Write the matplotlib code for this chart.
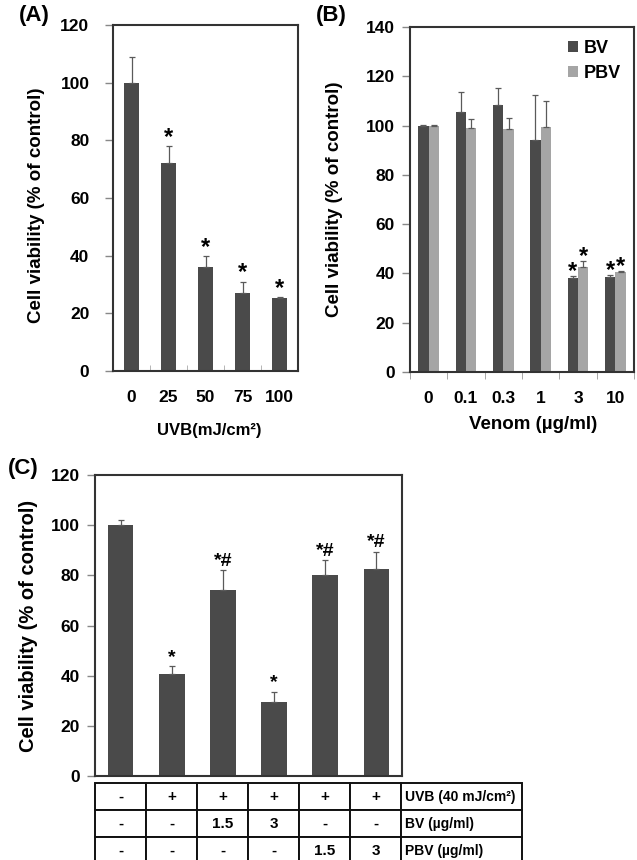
import matplotlib
matplotlib.use("Agg")
import matplotlib.pyplot as plt
import numpy as np

plt.rcParams['font.family'] = ['Liberation Sans', 'DejaVu Sans']
plt.rcParams['font.weight'] = 'bold'

# ---- data ----
a_labels = ['0', '25', '50', '75', '100']
a_vals = [100, 72, 36, 27, 25.2]
a_err = [9, 6, 4, 4, 0.4]
a_sig = ['', '*', '*', '*', '*']

b_labels = ['0', '0.1', '0.3', '1', '3', '10']
b_bv = [100, 105.5, 108.5, 94, 38, 38.5]
b_bv_err = [0.2, 8, 6.8, 18.5, 1, 1]
b_pbv = [100, 99, 98.5, 99.5, 42.5, 40.5]
b_pbv_err = [0.2, 3.5, 4.5, 10.5, 2.5, 0.6]
b_bv_sig = ['', '', '', '', '*', '*']
b_pbv_sig = ['', '', '', '', '*', '*']

c_vals = [100, 40.5, 74, 29.5, 80, 82.5]
c_err = [2, 3.2, 8, 4, 6, 7]
c_sig = ['', '*', '*#', '*', '*#', '*#']
table_rows = [
    ['-', '+', '+', '+', '+', '+', 'UVB (40 mJ/cm\u00b2)'],
    ['-', '-', '1.5', '3', '-', '-', 'BV (\u00b5g/ml)'],
    ['-', '-', '-', '-', '1.5', '3', 'PBV (\u00b5g/ml)'],
]

DARK = '#4a4a4a'
LIGHT = '#a5a5a5'
ERRC = '#5a5a5a'
SPINE = '#333333'

fig = plt.figure(figsize=(6.37, 8.6), dpi=100)
W, H = 637, 860

def ax_at(x0, y0, x1, y1):
    return fig.add_axes([x0 / W, 1 - y1 / H, (x1 - x0) / W, (y1 - y0) / H])

def style(ax, pad):
    for s in ax.spines.values():
        s.set_color(SPINE)
        s.set_linewidth(1.5)
    ax.tick_params(axis='y', direction='out', length=6, width=1, color='#888888',
                   labelsize=12.5, pad=pad)
    for t in ax.get_yticklabels():
        t.set_fontweight('bold')

ylab = 'Cell viability (% of control)'

# ---- Panel A ----
axA = ax_at(113, 25, 298, 371)
xa = np.arange(len(a_vals))
axA.bar(xa, a_vals, width=0.38, color=DARK, zorder=2)
axA.errorbar(xa, a_vals, yerr=[np.zeros(len(a_err)), a_err], fmt='none',
             ecolor=ERRC, elinewidth=0.9, capsize=2.5, capthick=0.9, zorder=3)
for x, v, e, s in zip(xa, a_vals, a_err, a_sig):
    if s:
        axA.text(x, v + e - 1.0, s, ha='center', va='bottom', fontsize=17, fontweight='bold')
axA.set_xlim(-0.5, len(a_vals) - 0.5)
axA.set_ylim(0, 120)
axA.set_yticks(range(0, 121, 20))
axA.set_xticks(xa)
axA.set_xticklabels(a_labels, fontsize=12.5, fontweight='bold')
axA.tick_params(axis='x', which='major', length=0, pad=14)
axA.set_xticks(np.arange(0.5, len(a_vals) - 0.5, 1), minor=True)
axA.tick_params(axis='x', which='minor', direction='in', length=4, color='#aaaaaa')
style(axA, 11)
axA.set_ylabel(ylab, fontsize=13.5, fontweight='bold')
axA.yaxis.set_label_coords(-0.368, 0.48)
axA.set_xlabel('UVB(mJ/cm\u00b2)', fontsize=12, fontweight='bold')
axA.xaxis.set_label_coords(0.52, -0.15)
fig.text(19 / W, 1 - 16 / H, '(A)', fontsize=16, fontweight='bold', va='center')

# ---- Panel B ----
axB = ax_at(410, 27, 634, 372)
xb = np.arange(len(b_bv))
bw = 0.28
axB.bar(xb - bw / 2, b_bv, width=bw, color=DARK, label='BV', zorder=2)
axB.bar(xb + bw / 2, b_pbv, width=bw, color=LIGHT, label='PBV', zorder=2)
axB.errorbar(xb - bw / 2, b_bv, yerr=[np.zeros(len(b_bv)), b_bv_err], fmt='none',
             ecolor=ERRC, elinewidth=0.9, capsize=2.5, capthick=0.9, zorder=3)
axB.errorbar(xb + bw / 2, b_pbv, yerr=[np.zeros(len(b_pbv)), b_pbv_err], fmt='none',
             ecolor=ERRC, elinewidth=0.9, capsize=2.5, capthick=0.9, zorder=3)
for x, v, e, s in zip(xb - bw / 2, b_bv, b_bv_err, b_bv_sig):
    if s:
        axB.text(x, v + e - 3.0, s, ha='center', va='bottom', fontsize=17, fontweight='bold')
for x, v, e, s in zip(xb + bw / 2, b_pbv, b_pbv_err, b_pbv_sig):
    if s:
        axB.text(x, v + e - 3.0, s, ha='center', va='bottom', fontsize=17, fontweight='bold')
axB.set_xlim(-0.5, len(b_bv) - 0.5)
axB.set_ylim(0, 140)
axB.set_yticks(range(0, 141, 20))
axB.set_xticks(xb)
axB.set_xticklabels(b_labels, fontsize=12.5, fontweight='bold')
axB.tick_params(axis='x', which='major', length=0, pad=14)
axB.set_xticks(np.arange(-0.5, len(b_bv), 1), minor=True)
axB.tick_params(axis='x', which='minor', direction='out', length=5, color='#999999')
style(axB, 5)
axB.set_ylabel(ylab, fontsize=13.5, fontweight='bold')
axB.yaxis.set_label_coords(-0.30, 0.5)
axB.set_xlabel('Venom (\u00b5g/ml)', fontsize=13.5, fontweight='bold')
axB.xaxis.set_label_coords(0.55, -0.128)
leg = axB.legend(loc='upper right', frameon=False, fontsize=13, handlelength=0.55,
                 handleheight=0.55, handletextpad=0.35, borderaxespad=0.3, labelspacing=0.45)
for t in leg.get_texts():
    t.set_fontweight('bold')
fig.text(316 / W, 1 - 16 / H, '(B)', fontsize=16, fontweight='bold', va='center')

# ---- Panel C ----
axC = ax_at(95, 475, 402, 776)
xc = np.arange(len(c_vals))
axC.bar(xc, c_vals, width=0.5, color=DARK, zorder=2)
axC.errorbar(xc, c_vals, yerr=[np.zeros(len(c_err)), c_err], fmt='none',
             ecolor=ERRC, elinewidth=0.9, capsize=2.5, capthick=0.9, zorder=3)
for x, v, e, s in zip(xc, c_vals, c_err, c_sig):
    if s:
        axC.text(x, v + e + 0.3, s, ha='center', va='bottom', fontsize=14, fontweight='bold')
axC.set_xlim(-0.5, len(c_vals) - 0.5)
axC.set_ylim(0, 120)
axC.set_yticks(range(0, 121, 20))
axC.set_xticks([])
style(axC, 5)
axC.set_ylabel(ylab, fontsize=14.5, fontweight='bold')
axC.yaxis.set_label_coords(-0.185, 0.5)
fig.text(8 / W, 1 - 468 / H, '(C)', fontsize=16, fontweight='bold', va='center')

# ---- table under C ----
axT = ax_at(95, 783, 522, 864)
axT.axis('off')
col_w = [51 / 427] * 6 + [121 / 427]
tbl = axT.table(cellText=table_rows, colWidths=col_w, bbox=[0, 0, 1, 1],
                cellLoc='center')
tbl.auto_set_font_size(False)
for (r, c), cell in tbl.get_celld().items():
    cell.set_linewidth(1.4)
    cell.set_edgecolor('#111111')
    cell.get_text().set_fontsize(11)
    cell.get_text().set_fontweight('bold')
    if c == 6:
        cell.get_text().set_fontsize(10)
        cell.get_text().set_ha('left')
        cell._loc = 'left'
        cell.PAD = 0.03

fig.savefig('out.png', dpi=100)
